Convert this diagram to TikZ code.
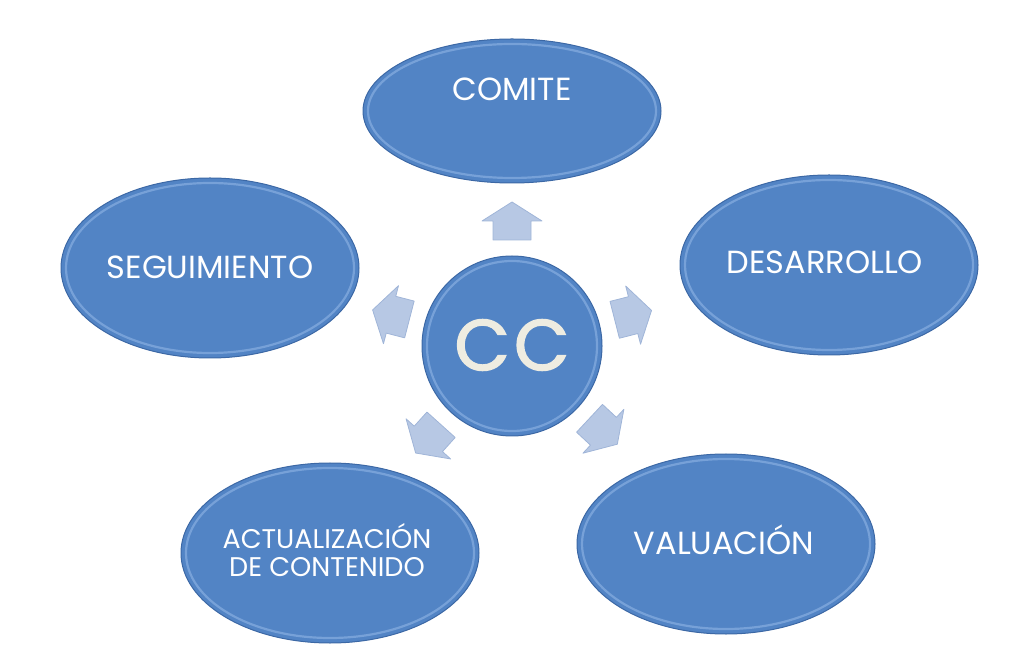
\documentclass[tikz,border=0pt]{standalone}
\usepackage{fontspec}
\setmainfont{Poppins}
\newfontfamily\ccfont{Poppins}[FakeBold=1.8]
\usetikzlibrary{shapes.geometric,calc}
\definecolor{ovalfill}{RGB}{82,132,197}
\definecolor{ovaledge}{RGB}{60,104,165}
\definecolor{ovallight}{RGB}{150,186,232}
\definecolor{arrfill}{RGB}{183,200,228}
\definecolor{arredge}{RGB}{160,181,216}
\definecolor{cream}{RGB}{238,236,225}
\begin{document}
\begin{tikzpicture}[x=1pt,y=1pt]
\tikzset{
  oval/.style={ellipse, fill=ovalfill, draw=ovaledge, line width=1pt, inner sep=0pt,
               minimum width=298pt, minimum height=180pt},
  ring/.style={ovallight, line width=2.2pt, opacity=0.55},
  labeltext/.style={text=white, inner sep=0pt, anchor=base,
               font=\fontsize{32}{38}\selectfont},
  blockarrow/.style={fill=arrfill, draw=arredge, line width=0.8pt, line join=round}
}
\useasboundingbox (0,0) rectangle (1024,645);

% ovals
\node[oval, minimum height=144pt] (comite) at (512,534) {};
\node[oval] (seg) at (210,377) {};
\node[oval] (des) at (829,380) {};
\node[oval] (act) at (330,92) {};
\node[oval] (val) at (726,101) {};
\node[circle, fill=ovalfill, draw=ovaledge, line width=1pt, inner sep=0pt,
      minimum size=180pt] (cc) at (512,299) {};

% bevel highlights
\draw[ring] (comite.center) ellipse [x radius=144pt, y radius=67pt];
\foreach \n in {seg,des,act,val}
  \draw[ring] (\n.center) ellipse [x radius=144pt, y radius=85pt];
\draw[ring] (cc.center) circle [radius=85pt];

% block arrows from the centre towards each oval
\foreach \ang in {90,165.5,14.3,-43,228}
  \draw[blockarrow, shift={(cc.center)}, rotate=\ang]
    (106,-19) -- (125,-19) -- (125,-30) -- (144,0) -- (125,30) -- (125,19) -- (106,19) -- cycle;

% labels
\node[labeltext] (comite-t) at (512,544) {COMITE};
\node[labeltext] (seg-t) at (210,366) {SEGUIMIENTO};
\node[labeltext] (des-t) at (825,371) {DESARROLLO};
\node[labeltext] (val-t) at (724,91) {VALUACIÓN};
\node[text=white, inner sep=0pt, align=center,
      font=\fontsize{27}{28}\selectfont] (act-t) at (327,95)
      {ACTUALIZACIÓN\\DE CONTENIDO};
\node[text=cream, inner sep=0pt, font=\fontsize{72}{80}\ccfont] (cc-t)
      at (512,300) {C\kern4pt C};
\end{tikzpicture}
\end{document}
